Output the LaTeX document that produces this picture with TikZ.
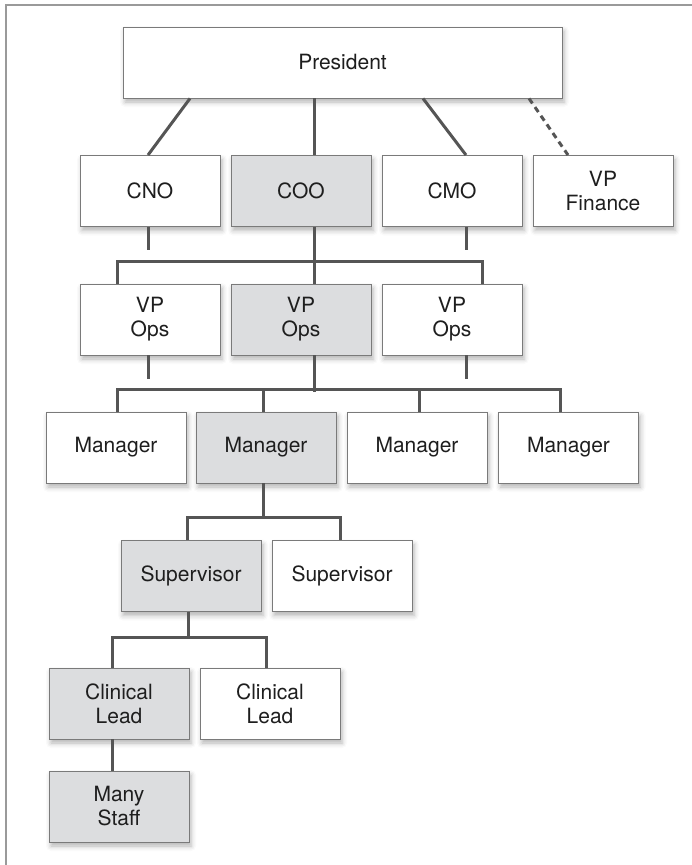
\documentclass[tikz,border=0pt]{standalone}
\usepackage{fontspec}
\setmainfont{TeX Gyre Heros}
\usetikzlibrary{shadows.blur}
\definecolor{boxgray}{HTML}{DCDDDF}
\definecolor{linkgray}{HTML}{555555}
\definecolor{edgegray}{HTML}{7A7A7A}
\definecolor{framegray}{HTML}{9A9A9A}
\definecolor{textdark}{HTML}{1E1E1E}

\begin{document}
\begin{tikzpicture}[x=1pt, y=-1pt,
    box/.style={draw=edgegray, line width=0.9pt, fill=white, minimum width=\boxw, minimum height=\boxh,
        inner sep=0pt, align=center, text=textdark, font=\fontsize{21}{24}\selectfont,
        blur shadow={shadow xshift=2pt, shadow yshift=-4pt, shadow blur radius=5pt, shadow opacity=30}},
    shaded/.style={box, fill=boxgray},
    link/.style={draw=linkgray, line width=3pt},
    dotlink/.style={link, dash pattern=on 6pt off 4.5pt}]
    %--------------------%
    % Parameters
    %--------------------%
    \def\boxw{140pt}
    \def\boxh{71pt}

    \useasboundingbox (0,0) rectangle (692,865);

    %--------------------%
    % Frame
    %--------------------%
    \draw[framegray, line width=1.3pt] (6,865) -- (6,5) -- (692,5);

    %--------------------%
    % Top
    %--------------------%
    \node[box, minimum width=439pt] (pres) at (342.5,62.5) {President};

    %--------------------%
    % Chiefs
    %--------------------%
    \node[box]    (cno) at (150,191) {CNO};
    \node[shaded] (coo) at (301,191) {COO};
    \node[box]    (cmo) at (452,191) {CMO};
    \node[box]    (vpf) at (603,191) {VP\\Finance};

    %--------------------%
    % VPs
    %--------------------%
    \node[box]    (vp1) at (150,319.5) {VP\\Ops};
    \node[shaded] (vp2) at (301,319.5) {VP\\Ops};
    \node[box]    (vp3) at (452,319.5) {VP\\Ops};

    %--------------------%
    % Managers
    %--------------------%
    \node[box]    (mgr1) at (116,447.5) {Manager};
    \node[shaded] (mgr2) at (266,447.5) {Manager};
    \node[box]    (mgr3) at (417,447.5) {Manager};
    \node[box]    (mgr4) at (568.5,447.5) {Manager};

    %--------------------%
    % Supervisors
    %--------------------%
    \node[shaded] (sup1) at (191,576) {Supervisor};
    \node[box]    (sup2) at (342,576) {Supervisor};

    %--------------------%
    % Clinical Leads and Staff
    %--------------------%
    \node[shaded] (cl1) at (119,703.5) {Clinical\\Lead};
    \node[box]    (cl2) at (270,703.5) {Clinical\\Lead};
    \node[shaded] (staff) at (119,806.5) {Many\\Staff};

    %--------------------%
    % Connections
    %--------------------%
    % President to chiefs
    \draw[link] ([xshift=-152.5pt]pres.south) -- ([xshift=-2pt]cno.north);
    \draw[link] ([xshift=-28.5pt]pres.south) -- ([xshift=13pt]coo.north);
    \draw[link] ([xshift=80.5pt]pres.south) -- ([xshift=14pt]cmo.north);
    \draw[dotlink] ([xshift=186.5pt]pres.south) -- ([xshift=-35pt]vpf.north);

    % Chiefs to VPs
    \draw[link] ([xshift=-2pt]cno.south) -- ++(0,23);
    \draw[link] ([xshift=14pt]cmo.south) -- ++(0,23);
    \draw[link] ([xshift=13pt]coo.south) -- ([xshift=13pt]vp2.north);
    \draw[link] ([xshift=-33pt]vp1.north) -- ++(0,-22) -| ([xshift=30pt]vp3.north);

    % VPs to managers
    \draw[link] ([xshift=-2pt]vp1.south) -- ++(0,24);
    \draw[link] ([xshift=14pt]vp3.south) -- ++(0,24);
    \draw[link] ([xshift=13pt]vp2.south) -- ++(0,36.5);
    \draw[link] ([xshift=1pt]mgr1.north) -- ++(0,-22) -| ([xshift=-8.5pt]mgr4.north);
    \draw[link] ([xshift=-3pt]mgr2.north) -- ++(0,-22);
    \draw[link] ([xshift=2pt]mgr3.north) -- ++(0,-22);

    % Manager to supervisors
    \draw[link] ([xshift=-3pt]mgr2.south) -- ++(0,34);
    \draw[link] ([xshift=-4pt]sup1.north) -- ++(0,-23) -| ([xshift=-2pt]sup2.north);

    % Supervisor to clinical leads
    \draw[link] ([xshift=-3pt]sup1.south) -- ++(0,26);
    \draw[link] ([xshift=-7pt]cl1.north) -- ++(0,-30) -| ([xshift=-4pt]cl2.north);

    % Clinical lead to staff
    \draw[link] ([xshift=-7pt]cl1.south) -- ([xshift=-7pt]staff.north);
\end{tikzpicture}
\end{document}
